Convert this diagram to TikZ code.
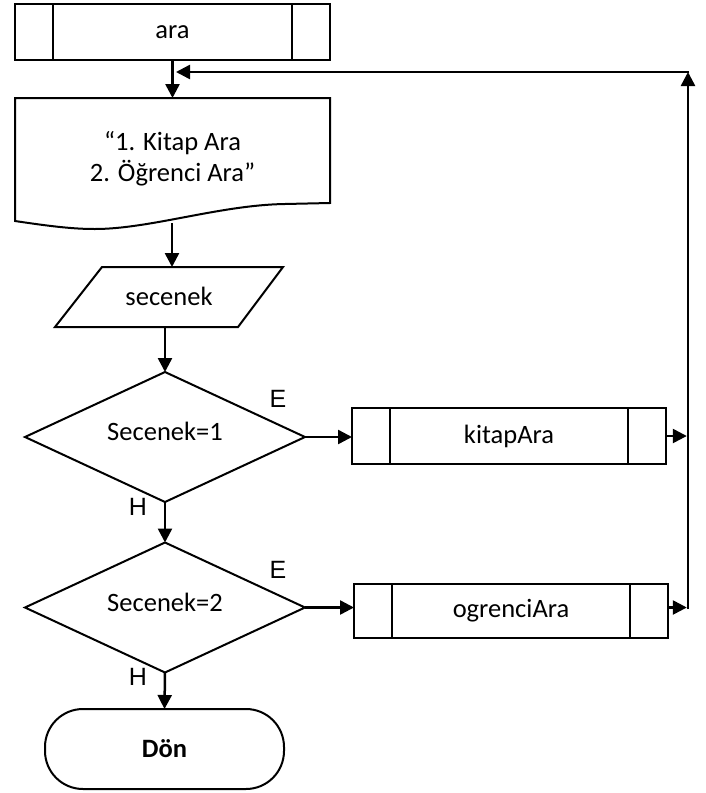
\documentclass[tikz,border=0pt]{standalone}
\usepackage{fontspec}
\setmainfont{Carlito}
\newfontfamily\labfont{Liberation Sans}
\usetikzlibrary{arrows.meta,shapes.geometric}
\begin{document}
\begin{tikzpicture}[x=1pt,y=-1pt,
  every node/.style={font=\fontsize{26.5}{31}\selectfont},
  shp/.style={draw, line width=2pt, inner sep=0pt, outer sep=0pt},
  proc/.style={shp, rectangle, minimum width=314pt, minimum height=56pt},
  dec/.style={shp, diamond, aspect=2.15, minimum width=280pt, minimum height=130pt},
  arr/.style={line width=2.5pt, -{Triangle[length=14pt,width=14pt]}},
  outl/.style={line width=2pt, line join=miter},
  lbl/.style={font=\labfont\fontsize{25}{30}\selectfont, inner sep=0pt}
]
\useasboundingbox (0,0) rectangle (705,793);

% nodes
\node[proc, minimum width=315pt] (ara) at (172.5,32) {ara};
\node[inner sep=0pt, outer sep=0pt, minimum width=315pt, minimum height=123pt] (doc) at (172.5,159.5)
  {\raisebox{10pt}{\begin{tabular}{@{}c@{}}“1. Kitap Ara\\2. Öğrenci Ara”\end{tabular}}};
\node[inner sep=0pt, outer sep=0pt, minimum width=228pt, minimum height=60pt] (sec) at (169,297) {\raisebox{2pt}{secenek}};
\node[dec] (d1) at (165,437) {\raisebox{11pt}{Secenek=1}};
\node[dec] (d2) at (165,607.5) {\raisebox{10pt}{Secenek=2}};
\node[proc] (kit) at (509,436) {kitapAra};
\node[proc, minimum height=54pt] (ogr) at (511,611) {ogrenciAra};
\node[shp, rectangle, rounded corners=38pt, minimum width=239pt, minimum height=80pt] (don) at (164.5,749) {\textbf{Dön}};

% inner bars of predefined process boxes
\foreach \n in {ara,kit,ogr}{
  \draw[outl] ([xshift=38pt]\n.north west) -- ([xshift=38pt]\n.south west);
  \draw[outl] ([xshift=-38pt]\n.north east) -- ([xshift=-38pt]\n.south east);
}

% document outline
\draw[outl] (15,221) -- (15,98) -- (330,98) -- (330,203) -- (285,204)
  .. controls (220,205) and (150,229) .. (95,229)
  .. controls (75,229) and (55,227) .. (15,221) -- cycle;

% parallelogram (input)
\draw[outl] (102,267) -- (283,267) -- (238,327) -- (55,327) -- cycle;

% labels
\node[lbl] (e1) at (278,399) {E};
\node[lbl] (h1) at (138,507) {H};
\node[lbl] (e2) at (278,569.5) {E};
\node[lbl] (h2) at (138,677) {H};

% connectors
\coordinate (docb) at (172,223);
\coordinate (r1) at (688,436);
\coordinate (r2) at (688,607.5);
\coordinate (rt) at (688,72);
\coordinate (lt) at (176,72);

\draw[arr] (ara.south) -- (doc.north);
\draw[arr] (docb) -- (docb |- sec.north);
\draw[arr] (sec.south -| d1.north) -- (d1.north);
\draw[arr] (d1.south) -- (d2.north);
\draw[arr] (d2.south) -- (don.north);
\draw[arr] (d1.east) -- (d1.east -| kit.west);
\draw[arr] (d2.east) -- (d2.east -| ogr.west);
\draw[arr] (kit.east) -- ([xshift=-1.2pt]r1);
\draw[arr] (d2.east -| ogr.east) -- ([xshift=-1.2pt]r2);
\draw[arr, line cap=butt] ([yshift=-1.25pt]r2) -- (rt);
\draw[arr] ([xshift=1.25pt]rt) -- (lt);
\end{tikzpicture}
\end{document}
